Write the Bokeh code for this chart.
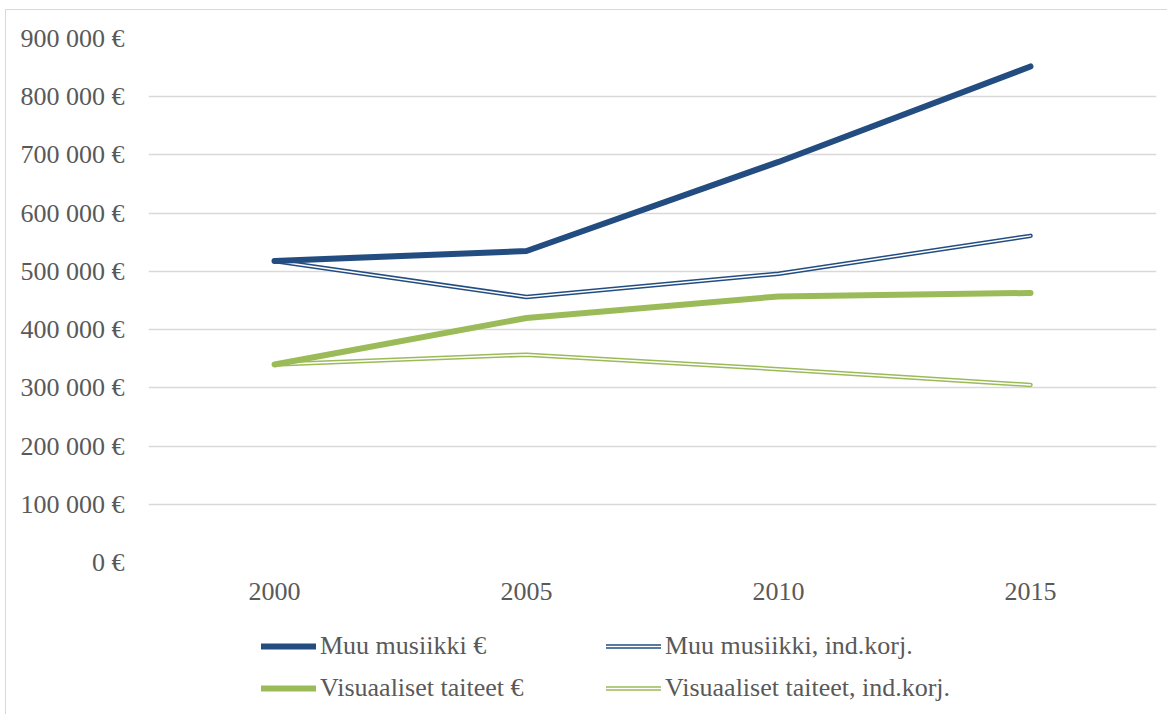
from bokeh.plotting import figure
from bokeh.models import (Range1d, FactorRange, FixedTicker, Legend, LegendItem,
                          ColumnDataSource)
from bokeh.layouts import column
from bokeh.embed import file_html
from bokeh.resources import INLINE

# ---- data ----
years = ["2000", "2005", "2010", "2015"]
muu_eur = [518000, 535000, 688000, 852000]
muu_ind = [518000, 456000, 496000, 561000]
vis_eur = [340000, 420000, 457000, 463000]
vis_ind = [340000, 357000, 332000, 305000]
y_ticks = [0, 100000, 200000, 300000, 400000, 500000, 600000, 700000, 800000, 900000]
y_tick_labels = ["0 €", "100 000 €", "200 000 €", "300 000 €", "400 000 €",
                 "500 000 €", "600 000 €", "700 000 €", "800 000 €", "900 000 €"]
series_names = ["Muu musiikki €", "Muu musiikki, ind.korj.",
                "Visuaaliset taiteet €", "Visuaaliset taiteet, ind.korj."]

BLUE = "#234D80"
GREEN = "#9BBB59"
TXT = "#595959"
FONT = "Liberation Serif"
FS = "26px"

p = figure(width=1161, height=600, x_range=FactorRange(*years, range_padding=0),
           y_range=Range1d(0, 900000), output_backend="svg", toolbar_location=None,
           min_border_left=142, min_border_right=11, min_border_top=28,
           min_border_bottom=48)
p.outline_line_color = None
p.background_fill_color = "white"
p.border_fill_color = "white"

p.xgrid.grid_line_color = None
p.ygrid.grid_line_color = "#D9D9D9"
p.ygrid.grid_line_width = 1.3

p.yaxis.ticker = FixedTicker(ticks=y_ticks)
p.yaxis.major_label_overrides = {t: l for t, l in zip(y_ticks, y_tick_labels)}
for ax in (p.xaxis[0], p.yaxis[0]):
    ax.axis_line_color = None
    ax.major_tick_line_color = None
    ax.minor_tick_line_color = None
    ax.major_label_text_font = FONT
    ax.major_label_text_font_size = FS
    ax.major_label_text_color = TXT
p.yaxis.major_label_standoff = 18
p.xaxis.major_label_standoff = 14

src = ColumnDataSource(dict(x=years, muu_eur=muu_eur, muu_ind=muu_ind,
                            vis_eur=vis_eur, vis_ind=vis_ind))

def styled_lines(fig, col, source):
    out = {}
    out["vi"] = [fig.line("x", col["vi"], source=source, line_color=GREEN, line_width=4.5,
                          line_join="round", line_cap="round"),
                 fig.line("x", col["vi"], source=source, line_color="white", line_width=1.5,
                          line_join="round", line_cap="round")]
    out["mi"] = [fig.line("x", col["mi"], source=source, line_color=BLUE, line_width=4.5,
                          line_join="round", line_cap="round"),
                 fig.line("x", col["mi"], source=source, line_color="white", line_width=1.5,
                          line_join="round", line_cap="round")]
    out["ve"] = [fig.line("x", col["ve"], source=source, line_color=GREEN, line_width=6,
                          line_join="round", line_cap="round")]
    out["me"] = [fig.line("x", col["me"], source=source, line_color=BLUE, line_width=6,
                          line_join="round", line_cap="round")]
    return out

styled_lines(p, dict(vi="vis_ind", mi="muu_ind", ve="vis_eur", me="muu_eur"), src)

# legend-only figure below the chart (swatch renderers with no drawable points)
p2 = figure(width=1161, height=106, output_backend="svg", toolbar_location=None,
            x_axis_location=None, y_axis_location=None,
            x_range=Range1d(0, 1), y_range=Range1d(0, 1),
            min_border_left=0, min_border_right=0, min_border_top=0, min_border_bottom=0)
p2.outline_line_color = None
p2.grid.grid_line_color = None
nan = float("nan")
swatch = ColumnDataSource(dict(x=[nan], a=[nan], b=[nan], c=[nan], d=[nan]))
rs = styled_lines(p2, dict(vi="a", mi="b", ve="c", me="d"), swatch)

legend = Legend(items=[
    LegendItem(label=series_names[0], renderers=rs["me"]),
    LegendItem(label=series_names[2], renderers=rs["ve"]),
    LegendItem(label=series_names[1], renderers=rs["mi"]),
    LegendItem(label=series_names[3], renderers=rs["vi"]),
], ncols=2, location=(113, 13), padding=0, margin=0, spacing=12,
    glyph_width=55, glyph_height=20, label_height=20, label_width=274,
    label_standoff=4, border_line_color=None, background_fill_alpha=0,
    label_text_font=FONT, label_text_font_size=FS, label_text_color=TXT)
p2.add_layout(legend, "center")

layout = column(p, p2, spacing=0,
                styles={"border-left": "1px solid #D9D9D9", "border-top": "1px solid #D9D9D9",
                        "margin-left": "5px", "margin-top": "9px"})
open("out.html", "w").write(file_html(layout, INLINE))
